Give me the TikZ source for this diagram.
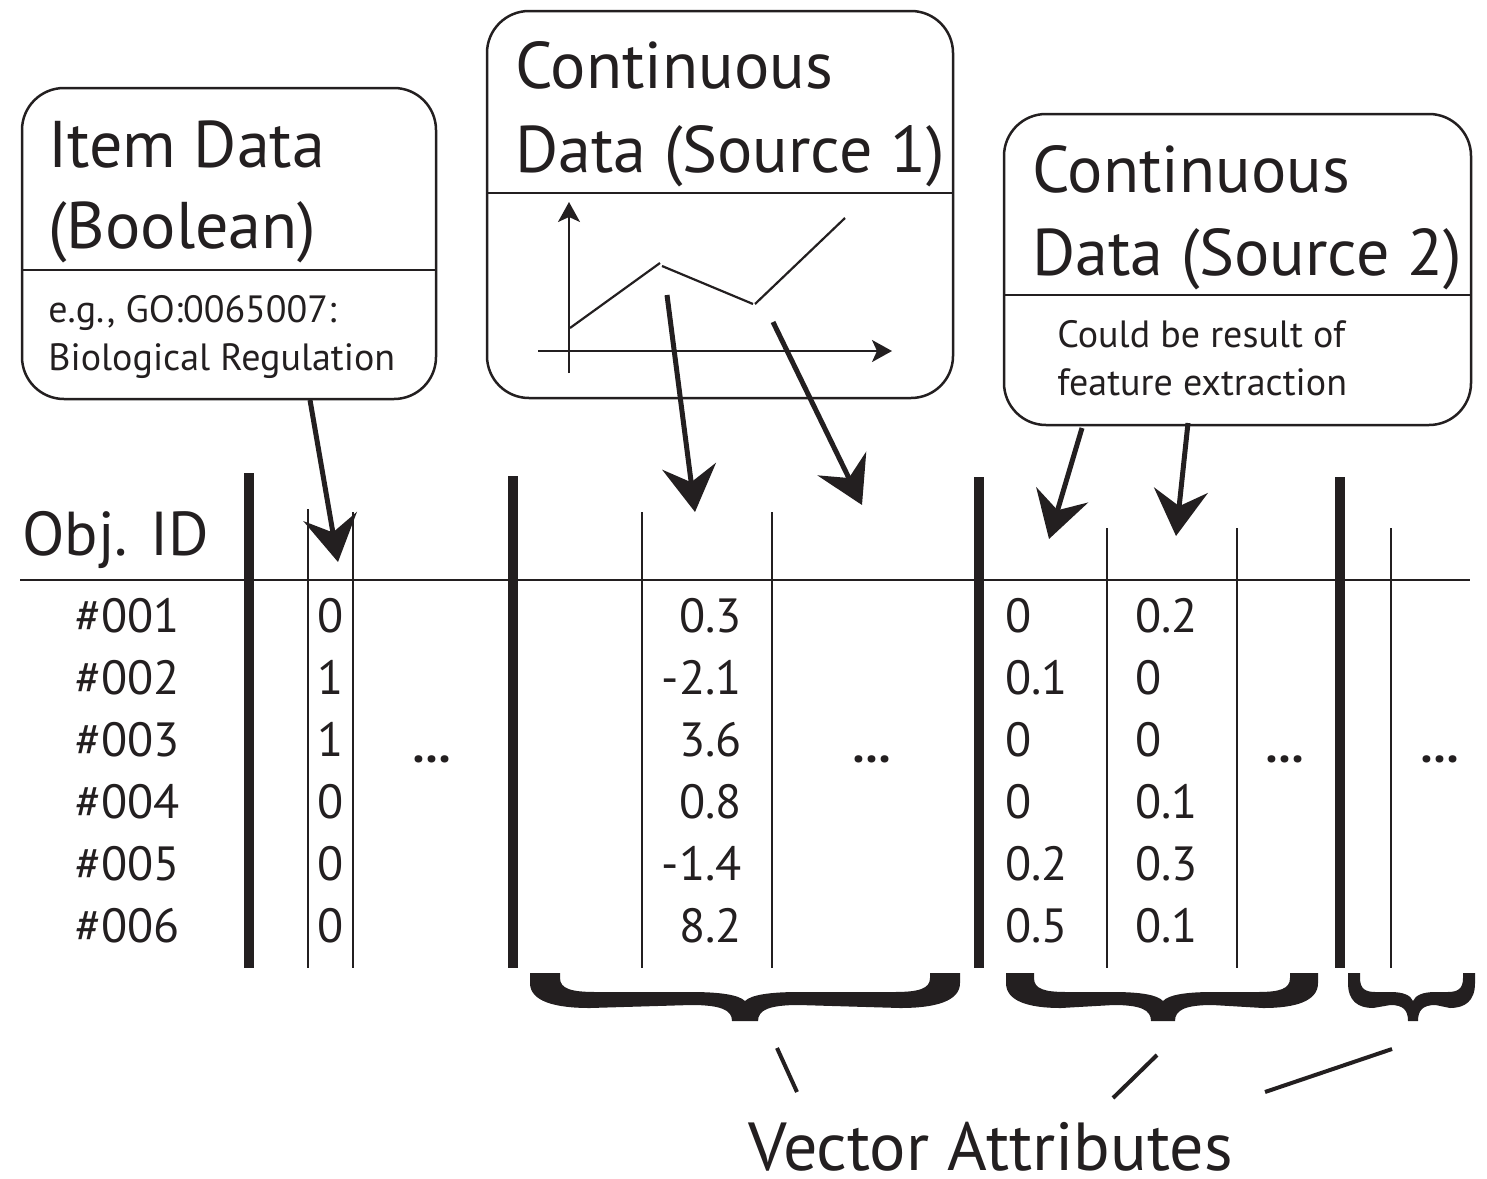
\documentclass[tikz,border=0pt]{standalone}
\usepackage{fontspec}
\setmainfont{PT Sans}
\usetikzlibrary{arrows.meta}
\definecolor{ink}{HTML}{231F20}
\newcommand\ftitle{\fontsize{33}{40}\selectfont}
\newcommand\fsmall{\fontsize{19}{22}\selectfont}
\newcommand\ftab{\fontsize{24}{28}\selectfont}
\newcommand\fhead{\fontsize{31}{36}\selectfont}
\newcommand\vbr[6]{% L C R endwidth reach tiphalf
\fill[bracefill] (#1,973) -- (#1,983) .. controls (#1,1001) and ({#1+0.4*#5},1008) .. ({#1+#5},1008)
 -- ({#2-0.9*#5},1005) .. controls ({#2-0.4*#5},1005) and ({#2-#6},1010) .. ({#2-#6},1021)
 -- ({#2+#6},1021) .. controls ({#2+#6},1010) and ({#2+0.4*#5},1005) .. ({#2+0.9*#5},1005)
 -- ({#3-#5},1008) .. controls ({#3-0.4*#5},1008) and (#3,1001) .. (#3,983) -- (#3,973)
 -- ({#3-#4},973) -- ({#3-#4},978) .. controls ({#3-#4},989) and ({#3-0.7*#5},992) .. ({#3-1.1*#5},992)
 -- ({#2+0.9*#5},992) .. controls ({#2+0.4*#5},992) and ({#2+0.1*#5},995) .. (#2,1001)
 .. controls ({#2-0.1*#5},995) and ({#2-0.4*#5},992) .. ({#2-0.9*#5},992)
 -- ({#1+1.1*#5},992) .. controls ({#1+0.7*#5},992) and ({#1+#4},989) .. ({#1+#4},978) -- ({#1+#4},973) -- cycle;}
\begin{document}
\begin{tikzpicture}[x=0.5pt,y=-0.5pt,
  panel/.style={draw=ink, line width=1.25pt, rounded corners=21pt, inner sep=0pt},
  divider/.style={draw=ink, line width=1.25pt},
  lbl/.style={anchor=base west, inner sep=0pt, text=ink},
  cval/.style={anchor=base, inner sep=0pt, text=ink},
  rval/.style={anchor=base east, inner sep=0pt, text=ink},
  thickbar/.style={draw=ink, line width=5pt},
  thinbar/.style={draw=ink, line width=1pt},
  bigarrow/.style={draw=ink, line width=2.5pt, -{Stealth[length=23pt,width=27pt,inset=8pt]}},
  axis/.style={draw=ink, line width=1pt, -{Stealth[length=10pt,width=11pt,inset=2.5pt]}},
  plotline/.style={draw=ink, line width=1.1pt},
  tick/.style={draw=ink, line width=2pt},
  dots/.style={anchor=base, inner sep=0pt, text=ink, font=\ftab\bfseries},
  bracefill/.style={fill=ink}]
\useasboundingbox (0,0) rectangle (1487,1178);

% ---------- boxes ----------
\node[panel, minimum width=207pt, minimum height=155.5pt] (itembox) at (229,243.5) {};
\draw[divider] (22,270) -- (436,270);
\node[lbl] (it1) at (48,167) {\ftitle Item Data};
\node[lbl] (it2) at (48,248) {\ftitle (Boolean)};
\node[lbl] (it3) at (48,322) {\fsmall e.g., GO:0065007:};
\node[lbl] (it4) at (48,370) {\fsmall Biological Regulation};

\node[panel, minimum width=233pt, minimum height=193.5pt] (srcone) at (720,204.5) {};
\draw[divider] (487,193) -- (953,193);
\node[lbl] (s11) at (515,88) {\ftitle Continuous};
\node[lbl] (s12) at (515,172) {\ftitle Data (Source 1)};
% chart
\coordinate (yb) at (569,373); \coordinate (yt) at (569,202);
\coordinate (xl) at (538,351); \coordinate (xr) at (892,351);
\draw[axis] (yb) -- (yt);
\draw[axis] (xl) -- (xr);
\draw[plotline] (570,328) -- (660,263);
\draw[plotline] (662,266) -- (753,304);
\draw[plotline] (755,304) -- (845,218);

\node[panel, minimum width=233.5pt, minimum height=155.5pt] (srctwo) at (1237.5,269.5) {};
\draw[divider] (1004,295) -- (1471,295);
\node[lbl] (s21) at (1032,192) {\ftitle Continuous};
\node[lbl] (s22) at (1032,275) {\ftitle Data (Source 2)};
\node[lbl] (s23) at (1057,347) {\fsmall Could be result of};
\node[lbl] (s24) at (1057,395) {\fsmall feature extraction};

% ---------- table ----------
\node[lbl] (objid) at (22,555) {\fhead Obj. ID};
\draw[thinbar] (20,580) -- (1470,580);
\draw[thickbar] (249,473) -- (249,968);
\draw[thickbar] (513,476) -- (513,968);
\draw[thickbar] (979,477) -- (979,968);
\draw[thickbar] (1340,477) -- (1340,968);
\draw[thinbar] (308,509) -- (308,968);
\draw[thinbar] (353,512) -- (353,968);
\draw[thinbar] (642,512) -- (642,968);
\draw[thinbar] (772,512) -- (772,968);
\draw[thinbar] (1107,528) -- (1107,968);
\draw[thinbar] (1237,528) -- (1237,968);
\draw[thinbar] (1391,528) -- (1391,968);

\foreach \i/\y/\b/\c/\d/\e in {1/632/0/0.3/0/0.2, 2/694/1/-2.1/0.1/0, 3/756/1/3.6/0/0,
                               4/818/0/0.8/0/0.1, 5/880/0/-1.4/0.2/0.3, 6/942/0/8.2/0.5/0.1}{
  \node[lbl] (id\i) at (75,\y) {\ftab \#00\i};
  \node[cval] (bo\i) at (331,\y) {\ftab \b};
  \node[rval] (co\i) at (742,\y) {\ftab \c};
  \node[lbl] (va\i) at (1005,\y) {\ftab \d};
  \node[lbl] (vb\i) at (1135,\y) {\ftab \e};
}
\node[dots] (el1) at (432,762) {…};
\node[dots] (el2) at (872,762) {…};
\node[dots] (el3) at (1285,762) {…};
\node[dots] (el4) at (1440,762) {…};

% ---------- arrows ----------
\coordinate (a1s) at (310,400);  \coordinate (a1e) at (338,562);
\coordinate (a2s) at (667,295);  \coordinate (a2e) at (695,512);
\coordinate (a3s) at (773,322);  \coordinate (a3e) at (862,505);
\coordinate (a4s) at (1082,428); \coordinate (a4e) at (1049,539);
\coordinate (a5s) at (1188,423); \coordinate (a5e) at (1176,536);
\draw[bigarrow] (a1s) -- (a1e);
\draw[bigarrow] (a2s) -- (a2e);
\draw[bigarrow] (a3s) -- (a3e);
\draw[bigarrow] (a4s) -- (a4e);
\draw[bigarrow] (a5s) -- (a5e);

% ---------- braces ----------
\vbr{530}{745}{960}{30}{60}{13}
\vbr{1006}{1163}{1318}{28}{55}{12}
\vbr{1348}{1413}{1475}{12}{25}{5}

% ---------- vector attributes ----------
\node[lbl] (vecattr) at (748,1170) {\fontsize{34}{40}\selectfont Vector Attributes};
\coordinate (t1a) at (777,1048); \coordinate (t1b) at (797,1092);
\coordinate (t2a) at (1157,1055); \coordinate (t2b) at (1113,1098);
\coordinate (t3a) at (1392,1049); \coordinate (t3b) at (1265,1092);
\draw[tick] (t1a) -- (t1b);
\draw[tick] (t2a) -- (t2b);
\draw[tick] (t3a) -- (t3b);
\end{tikzpicture}
\end{document}
